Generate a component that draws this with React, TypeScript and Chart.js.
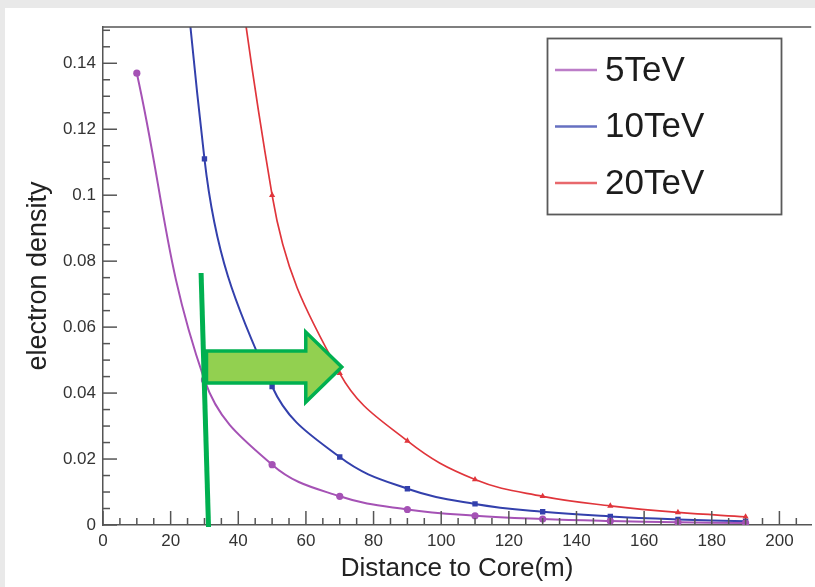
import React, { useEffect, useRef } from "react";
import { Chart, registerables } from "chart.js";

Chart.register(...registerables);

// ---- data ----
const distances = [10, 30, 50, 70, 90, 110, 130, 150, 170, 190];
const density5TeV = [0.137, 0.044, 0.0183, 0.0087, 0.0047, 0.0028, 0.0018, 0.0012, 0.0008, 0.0006];
const density10TeV = [0.4, 0.111, 0.042, 0.0206, 0.011, 0.0064, 0.004, 0.0026, 0.0017, 0.0011];
const density20TeV = [0.75, 0.29, 0.1, 0.046, 0.0255, 0.0138, 0.0087, 0.0058, 0.0038, 0.0025];
const seriesLabels = ["5TeV", "10TeV", "20TeV"];
const seriesColors = ["#a552b5", "#3340ac", "#e0353b"];
const seriesMarkers = ["circle", "rect", "triangle"];

const xRange = [0, 209.4];
const yRange = [0, 0.151];
const xTickValues = [0, 20, 40, 60, 80, 100, 120, 140, 160, 180, 200];
const yTickValues = [0, 0.02, 0.04, 0.06, 0.08, 0.1, 0.12, 0.14];
const xMajorStep = 20;
const xMinorStep = 5;
const yMajorStep = 0.02;
const yMinorStep = 0.005;

const xTitle = "Distance to Core(m)";
const yTitle = "electron density";

// green annotation (data coordinates)
const cutLine = { x1: 29.0, y1: 0.0764, x2: 31.2, y2: -0.0006 };
const shiftArrow = { xStart: 30.6, xEnd: 70.6, y: 0.0479 };

const FONT = "'Liberation Sans', Arial, Helvetica, sans-serif";
const AXIS_COLOR = "#555555";

function isMultiple(v: number, step: number) {
  const r = v / step;
  return Math.abs(r - Math.round(r)) < 1e-6;
}

const framePlugin = {
  id: "frameTicks",
  afterDraw(chart: any) {
    const { ctx, chartArea, scales } = chart;
    const xs = scales.x;
    const ys = scales.y;
    ctx.save();
    ctx.strokeStyle = AXIS_COLOR;
    ctx.lineWidth = 1.5;
    ctx.beginPath();
    ctx.moveTo(chartArea.left, chartArea.top);
    ctx.lineTo(chartArea.right, chartArea.top);
    ctx.stroke();
    for (let i = 0; i * xMinorStep <= xRange[1] + 1e-9; i++) {
      const v = i * xMinorStep;
      const px = xs.getPixelForValue(v);
      const len = isMultiple(v, xMajorStep) ? 14 : 7;
      ctx.beginPath();
      ctx.moveTo(px, chartArea.bottom);
      ctx.lineTo(px, chartArea.bottom - len);
      ctx.stroke();
    }
    for (let i = 0; i * yMinorStep <= yRange[1] + 1e-9; i++) {
      const v = i * yMinorStep;
      const py = ys.getPixelForValue(v);
      const len = isMultiple(v, yMajorStep) ? 14 : 7;
      ctx.beginPath();
      ctx.moveTo(chartArea.left, py);
      ctx.lineTo(chartArea.left + len, py);
      ctx.stroke();
    }
    ctx.restore();
  },
};

const annotationPlugin = {
  id: "greenAnnotation",
  afterDatasetsDraw(chart: any) {
    const { ctx, scales } = chart;
    const xs = scales.x;
    const ys = scales.y;
    ctx.save();
    ctx.strokeStyle = "#00b050";
    ctx.lineWidth = 5;
    ctx.beginPath();
    ctx.moveTo(xs.getPixelForValue(cutLine.x1), ys.getPixelForValue(cutLine.y1));
    ctx.lineTo(xs.getPixelForValue(cutLine.x2), ys.getPixelForValue(cutLine.y2));
    ctx.stroke();
    const x0 = xs.getPixelForValue(shiftArrow.xStart);
    const x1 = xs.getPixelForValue(shiftArrow.xEnd);
    const yc = ys.getPixelForValue(shiftArrow.y);
    const shaftHalf = 16;
    const headHalf = 35;
    const headLen = 36;
    ctx.beginPath();
    ctx.moveTo(x0, yc - shaftHalf);
    ctx.lineTo(x1 - headLen, yc - shaftHalf);
    ctx.lineTo(x1 - headLen, yc - headHalf);
    ctx.lineTo(x1, yc);
    ctx.lineTo(x1 - headLen, yc + headHalf);
    ctx.lineTo(x1 - headLen, yc + shaftHalf);
    ctx.lineTo(x0, yc + shaftHalf);
    ctx.closePath();
    ctx.fillStyle = "#92d050";
    ctx.fill();
    ctx.lineWidth = 3.5;
    ctx.lineJoin = "miter";
    ctx.strokeStyle = "#00b050";
    ctx.stroke();
    ctx.restore();
  },
};

const legendPlugin = {
  id: "boxLegend",
  afterDraw(chart: any) {
    const { ctx } = chart;
    const left = 547.5;
    const top = 38.5;
    const width = 234;
    const height = 176;
    ctx.save();
    ctx.fillStyle = "#ffffff";
    ctx.fillRect(left, top, width, height);
    ctx.strokeStyle = "#5a5a5a";
    ctx.lineWidth = 1.8;
    ctx.strokeRect(left, top, width, height);
    ctx.font = `35px ${FONT}`;
    ctx.textBaseline = "middle";
    ctx.textAlign = "left";
    chart.data.datasets.forEach((ds: any, i: number) => {
      const y = 70 + i * 56.5;
      ctx.strokeStyle = ds.borderColor;
      ctx.globalAlpha = 0.75;
      ctx.lineWidth = 2.5;
      ctx.beginPath();
      ctx.moveTo(555, y);
      ctx.lineTo(597, y);
      ctx.stroke();
      ctx.globalAlpha = 1;
      ctx.fillStyle = "#1c1c1c";
      ctx.fillText(ds.label, 605, y + 1);
    });
    ctx.restore();
  },
};

function setTicks(values: number[]) {
  return (scale: any) => {
    scale.ticks = values.map((value) => ({ value }));
  };
}

export default function App() {
  const canvasRef = useRef<HTMLCanvasElement | null>(null);

  useEffect(() => {
    const canvas = canvasRef.current;
    if (!canvas) return;
    const seriesValues = [density5TeV, density10TeV, density20TeV];
    const chart = new Chart(canvas, {
      type: "line",
      data: {
        datasets: seriesValues.map((vals, i) => ({
          label: seriesLabels[i],
          data: distances.map((x, j) => ({ x, y: vals[j] })),
          borderColor: seriesColors[i],
          backgroundColor: seriesColors[i],
          borderWidth: i === 2 ? 1.7 : 2,
          pointStyle: seriesMarkers[i] as any,
          pointRadius: i === 1 ? 3.8 : 3.6,
          pointBorderWidth: 0,
          pointHoverRadius: 0,
          tension: 0.4,
          fill: false,
        })),
      },
      options: {
        animation: false,
        responsive: false,
        maintainAspectRatio: false,
        events: [],
        layout: { padding: { top: 27, left: 0, right: 0, bottom: 0 } },
        plugins: {
          legend: { display: false },
          tooltip: { enabled: false },
        },
        scales: {
          x: {
            type: "linear",
            min: xRange[0],
            max: xRange[1],
            afterFit: (s: any) => {
              s.height = 62;
            },
            afterBuildTicks: setTicks(xTickValues),
            grid: { display: false, drawTicks: false },
            border: { display: true, color: AXIS_COLOR, width: 1.5 },
            ticks: {
              autoSkip: false,
              maxRotation: 0,
              padding: 6,
              color: "#333333",
              font: { family: FONT, size: 17 },
              callback: (v: any) => String(v),
            },
            title: {
              display: true,
              text: xTitle,
              color: "#222222",
              font: { family: FONT, size: 26 },
              padding: { top: 0, bottom: 3 },
            },
          },
          y: {
            type: "linear",
            min: yRange[0],
            max: yRange[1],
            afterFit: (s: any) => {
              s.width = 103;
            },
            afterBuildTicks: setTicks(yTickValues),
            grid: { display: false, drawTicks: false },
            border: { display: true, color: AXIS_COLOR, width: 1.5 },
            ticks: {
              autoSkip: false,
              padding: 7,
              color: "#333333",
              font: { family: FONT, size: 17 },
              callback: (v: any) => Number(Number(v).toFixed(3)).toString(),
            },
            title: {
              display: true,
              text: yTitle,
              color: "#222222",
              font: { family: FONT, size: 27 },
              padding: { top: 22, bottom: 0 },
            },
          },
        },
      },
      plugins: [framePlugin, annotationPlugin, legendPlugin],
    });
    return () => chart.destroy();
  }, []);

  return (
    <div
      style={{
        position: "fixed",
        left: 0,
        top: 0,
        width: 815,
        height: 587,
        overflow: "hidden",
        background: "#e9e9e9",
      }}
    >
      <div
        style={{
          position: "absolute",
          left: 5,
          top: 8,
          right: 0,
          bottom: 0,
          background: "#ffffff",
        }}
      />
      <canvas
        ref={canvasRef}
        width={815}
        height={587}
        style={{ position: "absolute", left: 0, top: 0, display: "block" }}
      />
    </div>
  );
}
